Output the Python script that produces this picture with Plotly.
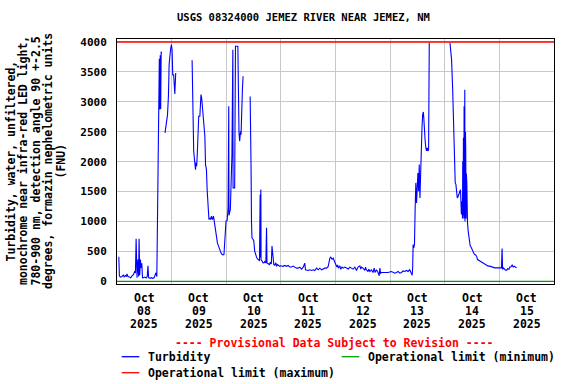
import pandas as pd
import plotly.graph_objects as go

# ---------------- data ----------------
start_date = "2025-10-08"
end_date = "2025-10-16"
# hours since 2025-10-08 00:00 and turbidity (FNU); None = gap in record
hours = [
    0.8, 1.05, 1.6, 2.2, 2.8, 3.1, 3.7, 4.1, 4.4, 4.8, 5.4, 6.0, 6.6, 7.2, 7.8, 8.1, 8.4, 8.7, 8.8, 9.2,
    9.5, 9.7, 10.0, 10.3, 10.6, 10.9, 11.2, 11.6, 12.2, 12.8, 13.3, 13.6, 13.9, 14.5, 15.1, 15.7, 16.3,
    16.7, 17.1, 17.5, 17.6, 18.0, 18.4, 18.6, 18.8, 19.0, 19.2, 19.4, 19.6,
    20.3,
    21.1, 21.7, 22.2, 22.6, 22.9, 23.5, 23.9, 24.2, 24.5, 24.9, 25.1, 25.4, 25.8,
    29.0,
    33.0, 33.1, 33.3, 33.7, 34.2, 34.5, 34.7, 35.0, 35.3, 35.6, 35.9, 36.4, 36.7, 36.9, 37.2, 37.5,
    38.0, 38.3, 38.6, 38.9, 39.3, 39.6, 39.9, 40.2, 40.4, 40.8, 41.1, 41.5, 41.9, 42.4, 42.6, 43.1,
    43.4, 43.8, 44.1, 44.6, 44.8, 45.3, 45.7, 46.2, 46.6, 47.0, 47.3, 47.6, 47.9, 48.4, 48.8, 49.1,
    49.2, 49.8, 50.5, 50.9, 51.0, 51.7, 51.8, 52.05, 53.1, 53.2, 53.6, 53.9, 54.25, 54.5, 54.7, 55.1, 55.4,
    57.0,
    58.5, 58.6, 58.9, 59.1, 59.3, 59.8, 60.1, 60.5, 60.8, 61.1, 61.4, 62.0, 62.3, 62.6, 62.9, 63.0,
    63.2, 63.3, 63.7, 64.2, 64.6, 64.9, 65.4, 65.7, 65.9, 66.4, 67.0, 67.4, 67.8, 68.1, 68.4, 68.9,
    69.3, 69.8, 70.1, 70.5, 71.0, 71.4, 71.8, 72.3, 73.0, 73.7, 74.5, 75.2, 75.9, 76.7, 77.4, 78.1,
    78.9, 79.6, 80.3, 81.1, 81.8, 82.5, 82.8, 84.0, 84.7, 85.5, 86.2, 86.9, 87.7, 88.4, 89.1, 89.9,
    90.6, 91.3, 92.1, 92.8, 93.5, 93.9, 94.5, 95.0, 95.4, 95.8, 96.3, 96.6, 96.9, 97.3, 97.9, 98.3,
    98.9, 99.4, 100.1, 100.8, 101.6, 102.3, 103.0, 103.7, 104.5, 105.2, 105.9, 106.7, 107.1, 107.4,
    108.1, 108.9, 109.2, 109.6, 110.3, 110.6, 111.1, 111.8, 112.5, 113.0, 113.4, 114.0, 114.7, 115.2,
    115.5, 115.8, 116.2, 117.7, 119.1, 120.6, 121.3, 122.1, 122.8, 123.5, 124.3, 125.0, 125.7, 126.4,
    127.2, 127.9, 128.6, 129.4, 129.7, 129.9, 130.1, 130.4, 130.7, 131.0, 131.3, 131.6, 131.9, 132.2,
    132.5, 132.8, 133.1, 133.4, 133.7, 134.0, 134.3, 134.6, 134.8, 135.1, 135.4, 135.7, 136.0, 136.3,
    136.6, 136.9, 137.2,
    141.0,
    146.3, 146.6, 147.0, 147.5, 147.9, 148.2, 148.6, 148.9, 149.2, 149.5, 149.9, 150.2, 150.6, 150.9,
    151.0, 151.3, 151.6, 151.8, 151.9, 152.1, 152.2, 152.4, 152.5, 152.7, 152.8, 152.9, 153.1, 153.2,
    153.4, 153.5, 153.7, 153.8, 154.0, 154.3, 154.7, 155.2, 155.6, 156.0, 156.5, 156.9, 157.5, 158.0,
    158.4, 159.0, 159.4, 160.2, 160.9, 161.6, 162.4, 163.1, 163.8, 164.6, 165.3, 166.0, 166.8, 167.5,
    168.2, 168.9, 169.2, 169.4, 169.8, 170.1, 170.7, 171.2, 171.6, 172.2, 172.6, 173.0, 173.6, 174.1,
    174.5, 175.0, 175.6,
]
turbidity = [
    409, 87, 70, 80, 110, 75, 95, 80, 125, 80, 70, 60, 90, 110, 170, 140, 710, 392, 58, 364,
    80, 710, 100, 364, 225, 300, 58, 60, 70, 55, 80, 259, 60, 50, 60, 50, 60,
    100, 142, 80, 459, 1256, 2842, 3720, 2870, 3780, 2880, 3840, 3800,
    None,
    2480, 2645, 2785, 3100, 3620, 3870, 3955, 3870, 3450, 3450, 3175, 3130, 3480,
    None,
    3694, 3510, 2759, 2174, 1979, 1867, 1979, 1924, 2146, 2396, 2759, 2759, 3093, 3120, 3064, 2953,
    2759, 2563, 2425, 1951, 1867, 1533, 1256, 1116, 1032, 1060, 1032, 1089, 1032, 1089, 1045, 949,
    838, 726, 643, 588, 560, 504, 476, 448, 440, 448, 615, 755, 1005, 1016, 1227, 2926,
    1100, 1200, 2118, 3871, 1561, 1561, 2563, 3928, 3928, 3176, 2480, 2341, 2508, 2452, 2953, 3203, 3426,
    None,
    3090, 1925, 1900, 975, 727, 700, 680, 505, 450, 420, 392, 364, 360, 340, 1450, 400,
    1535, 360, 340, 308, 310, 330, 308, 893, 308, 290, 280, 320, 290, 588, 392, 280,
    270, 310, 250, 280, 265, 250, 260, 260, 250, 265, 250, 265, 240, 240, 255, 237,
    220, 220, 237, 204, 237, 303, 192, 181, 192, 181, 192, 181, 220, 192, 220, 192,
    204, 220, 220, 248, 387, 404, 371, 387, 348, 303, 276, 237, 276, 220, 259, 204,
    237, 220, 237, 220, 204, 237, 220, 204, 237, 181, 237, 259, 204, 237,
    220, 181, 237, 192, 164, 204, 164, 192, 147, 220, 147, 192, 147, 92,
    220, 136, 147, 147, 147, 164, 147, 136, 147, 164, 136, 147, 173, 164,
    181, 164, 192, 110, 100, 226, 615, 560, 615, 1227, 1645, 1311, 1645, 1812,
    1506, 1951, 1394, 1951, 2508, 2563, 2786, 2830, 2730, 2396, 2340, 2229, 2180, 2229,
    2180, 2200, 3983,
    None,
    3983, 3844, 3705, 3176, 2592, 1784, 1645, 1620, 1422, 1394, 1422, 1450, 1506, 1530,
    1450, 1116, 1339, 1050, 2007, 1100, 2400, 1050, 2925, 1200, 3203, 1000, 2500, 2258,
    1050, 1800, 1645, 1050, 977, 838, 698, 588, 570, 531, 504, 459, 440, 420,
    364, 350, 337, 320, 292, 281, 270, 254, 254, 240, 240, 225, 225, 225,
    225, 225, 548, 200, 225, 210, 187, 187, 210, 200, 240, 240, 271, 240,
    254, 240, 225,
]
limit_max = [4000, 4000]
limit_min = [0, 0]
y_ticks = [0, 500, 1000, 1500, 2000, 2500, 3000, 3500, 4000]
tick_month = "Oct"
tick_days = ["08", "09", "10", "11", "12", "13", "14", "15"]
tick_year = "2025"
grid_days = ["2025-10-09", "2025-10-10", "2025-10-11", "2025-10-12",
             "2025-10-13", "2025-10-14", "2025-10-15"]
title_text = "USGS 08324000 JEMEZ RIVER NEAR JEMEZ, NM"
ylabel_lines = [
    "Turbidity, water, unfiltered,",
    "monochrome near infra-red LED light,",
    "780-900 nm, detection angle 90 +-2.5",
    "degrees, formazin nephelometric units",
    "(FNU)",
]
provisional = "---- Provisional Data Subject to Revision ----"
names = ["Turbidity", "Operational limit (minimum)", "Operational limit (maximum)"]
colors = ["#0000ff", "#00a000", "#ff0000"]

times = pd.Timestamp(start_date) + pd.to_timedelta(hours, unit="h")
limit_x = [pd.Timestamp(start_date), pd.Timestamp(end_date)]

# ---------------- figure ----------------
FONT = "DejaVu Sans Mono"
L, R, T, B = 117, 22, 39, 100
W, H = 576, 384
PW, PH = W - L - R, H - T - B


def px_x(px):
    return (px - L) / PW


def px_y(py):
    return (T + PH - py) / PH


fig = go.Figure()
fig.add_trace(go.Scatter(x=times, y=turbidity, mode="lines", name=names[0],
                         line=dict(color=colors[0], width=1.1), connectgaps=False,
                         showlegend=False))
fig.add_trace(go.Scatter(x=limit_x, y=limit_min, mode="lines", name=names[1],
                         line=dict(color=colors[1], width=1.3), showlegend=False))
fig.add_trace(go.Scatter(x=limit_x, y=limit_max, mode="lines", name=names[2],
                         line=dict(color=colors[2], width=1.3), showlegend=False))

fig.update_layout(
    width=W, height=H,
    margin=dict(l=L, r=R, t=T, b=B),
    paper_bgcolor="white", plot_bgcolor="white",
    font=dict(family=FONT, size=11.5, color="black", weight="bold"),
    showlegend=False,
)
fig.update_xaxes(
    type="date", range=[start_date, end_date],
    tickvals=grid_days, showticklabels=False, ticks="",
    showgrid=True, gridcolor="#c8c8c8", gridwidth=1,
    showline=True, mirror=True, linecolor="black", linewidth=1, zeroline=False,
)
fig.update_yaxes(
    range=[-45, 4050], tickvals=y_ticks, ticks="",
    ticklabelstandoff=7, tickfont=dict(family=FONT, size=11, weight="bold"),
    showgrid=True, gridcolor="#c8c8c8", gridwidth=1,
    showline=True, mirror=True, linecolor="black", linewidth=1, zeroline=False,
)

ann = []
# title
ann.append(dict(text=title_text, x=px_x(303.5), y=px_y(17), xref="paper", yref="paper",
                showarrow=False, xanchor="center", yanchor="middle",
                font=dict(size=10.5)))
# x tick labels (three lines each)
for d in tick_days:
    xc = pd.Timestamp(f"2025-10-{d} 12:00")
    for txt, py in zip([tick_month, d, tick_year], [298, 311, 324]):
        ann.append(dict(text=txt, x=xc, y=px_y(py), xref="x", yref="paper",
                        showarrow=False, xanchor="center", yanchor="middle",
                        font=dict(size=11.5)))
# y axis title lines
for txt, px in zip(ylabel_lines, [10.5, 23, 35.5, 48, 60.5]):
    ann.append(dict(text=txt, x=px_x(px), y=px_y(161), xref="paper", yref="paper",
                    showarrow=False, xanchor="center", yanchor="middle", textangle=-90,
                    font=dict(size=11.5)))
# provisional
ann.append(dict(text=provisional, x=px_x(334.6), y=px_y(342.7), xref="paper", yref="paper",
                showarrow=False, xanchor="center", yanchor="middle",
                font=dict(size=11.5, color="#ff0000")))
# legend
legend_pos = [(121.7, 356.7), (341.7, 356.7), (121.7, 372.7)]
shapes = []
for name, col, (lx, ly) in zip(names, colors, legend_pos):
    shapes.append(dict(type="line", xref="paper", yref="paper",
                       x0=px_x(lx), x1=px_x(lx + 17.6), y0=px_y(ly), y1=px_y(ly),
                       line=dict(color=col, width=1.3)))
    ann.append(dict(text=name, x=px_x(lx + 24), y=px_y(ly), xref="paper", yref="paper",
                    showarrow=False, xanchor="left", yanchor="middle",
                    font=dict(size=11.5)))

fig.update_layout(annotations=ann, shapes=shapes)
fig.write_html("out.html", config={"displayModeBar": False},
               post_script="document.body.style.margin='0';document.body.style.overflow='hidden';")
